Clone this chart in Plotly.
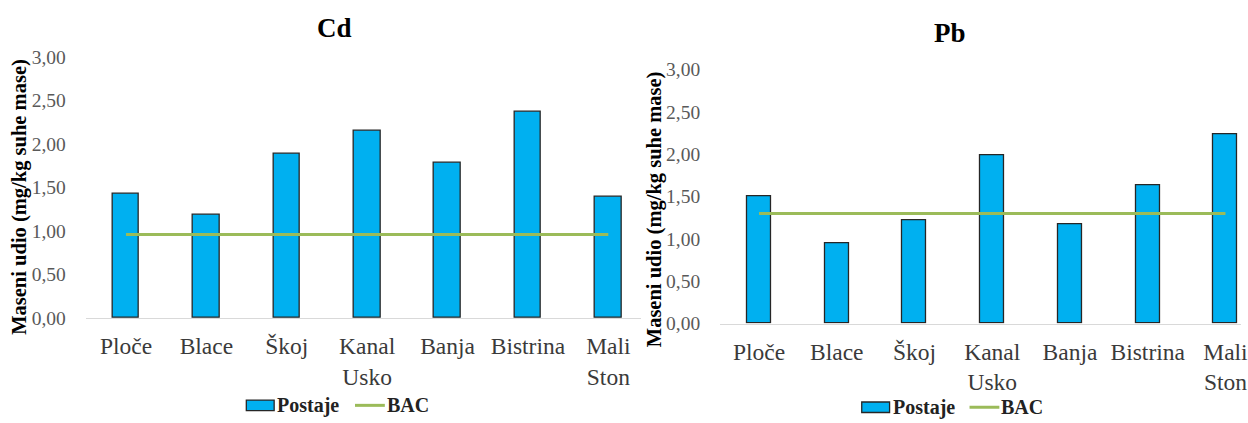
import plotly.graph_objects as go

# Sampling stations (x categories)
stations = ["Ploče", "Blace", "Škoj", "Kanal<br>Usko", "Banja", "Bistrina", "Mali<br>Ston"]

# Mass fractions (mg/kg dry mass)
cd_values = [1.43, 1.18, 1.89, 2.15, 1.78, 2.37, 1.39]
pb_values = [1.50, 0.95, 1.22, 1.98, 1.17, 1.63, 2.23]

# Background assessment concentrations
cd_bac = 0.96
pb_bac = 1.30

W, H = 1248, 423
SERIF = "Liberation Serif"
BAR_FILL = "#00B0F0"
BAR_EDGE = "#262626"
BAC_COLOR = "#9BBB59"


def px_x(x):
    return x / W


def px_y(y):
    return (H - y) / H


fig = go.Figure()

# Cd panel
fig.add_trace(go.Bar(x=stations, y=cd_values, name="Postaje", width=0.33,
                     marker=dict(color=BAR_FILL, line=dict(color=BAR_EDGE, width=1.3)),
                     xaxis="x", yaxis="y", showlegend=False))
fig.add_trace(go.Scatter(x=stations, y=[cd_bac] * len(stations), name="BAC", mode="lines",
                         line=dict(color=BAC_COLOR, width=3),
                         xaxis="x", yaxis="y", showlegend=False))

# Pb panel
fig.add_trace(go.Bar(x=stations, y=pb_values, name="Postaje", width=0.31,
                     marker=dict(color=BAR_FILL, line=dict(color=BAR_EDGE, width=1.3)),
                     xaxis="x2", yaxis="y2", showlegend=False))
fig.add_trace(go.Scatter(x=stations, y=[pb_bac] * len(stations), name="BAC", mode="lines",
                         line=dict(color=BAC_COLOR, width=3),
                         xaxis="x2", yaxis="y2", showlegend=False))

xaxis_common = dict(type="category", showgrid=False, zeroline=False, showline=True,
                    linecolor="#d9d9d9", linewidth=1, ticks="", fixedrange=True,
                    ticklabelstandoff=7,
                    tickfont=dict(family=SERIF, size=23.5, color="#3a3a3a"))
yaxis_common = dict(range=[0, 3], dtick=0.5, tickformat=".2f", showgrid=False,
                    zeroline=False, showline=False, ticks="", ticklabelstandoff=19,
                    tickfont=dict(family=SERIF, size=19.5, color="#595959"))

fig.update_layout(
    width=W, height=H, autosize=False,
    margin=dict(l=0, r=0, t=0, b=0),
    paper_bgcolor="white", plot_bgcolor="white",
    font=dict(family=SERIF),
    separators=", ",
    bargap=0,
    xaxis=dict(domain=[px_x(86.3), px_x(644.9)], range=[-0.5, 6.41], anchor="y", **xaxis_common),
    yaxis=dict(domain=[px_y(324.2), px_y(49.3)], anchor="x", **yaxis_common),
    xaxis2=dict(domain=[px_x(724.2), 1.0], range=[-0.5, 6.20], anchor="y2", **xaxis_common),
    yaxis2=dict(domain=[px_y(330.0), px_y(62.4)], anchor="x2", **yaxis_common),
)

annotations = []
shapes = []

# Panel titles
for text, cx, cy in [("Cd", 336.5, 19), ("Pb", 955.4, 24)]:
    annotations.append(dict(text=f"<b>{text}</b>", x=px_x(cx), y=px_y(cy), xref="paper", yref="paper",
                            showarrow=False, xanchor="center", yanchor="middle",
                            font=dict(family=SERIF, size=27, color="black")))

# Y-axis titles
for cx, cy in [(20, 196.7), (659, 209.3)]:
    annotations.append(dict(text="<b>Maseni udio (mg/kg suhe mase)</b>", x=px_x(cx), y=px_y(cy),
                            xref="paper", yref="paper", showarrow=False, textangle=-90,
                            xanchor="center", yanchor="middle",
                            font=dict(family=SERIF, size=20.5, color="black")))

# Legends drawn below each panel
for box_x, line_x, ly in [(247.7, 357, 416), (866.6, 975, 418)]:
    shapes.append(dict(type="rect", xref="paper", yref="paper",
                       x0=px_x(box_x), x1=px_x(box_x + 28), y0=px_y(ly + 5.5), y1=px_y(ly - 5.5),
                       fillcolor=BAR_FILL, line=dict(color=BAR_EDGE, width=1.3)))
    annotations.append(dict(text="<b>Postaje</b>", x=px_x(box_x + 29), y=px_y(ly), xref="paper",
                            yref="paper", showarrow=False, xanchor="left", yanchor="middle",
                            font=dict(family=SERIF, size=20, color="#222222")))
    shapes.append(dict(type="line", xref="paper", yref="paper",
                       x0=px_x(line_x), x1=px_x(line_x + 30), y0=px_y(ly), y1=px_y(ly),
                       line=dict(color=BAC_COLOR, width=3)))
    annotations.append(dict(text="<b>BAC</b>", x=px_x(line_x + 30), y=px_y(ly), xref="paper",
                            yref="paper", showarrow=False, xanchor="left", yanchor="middle",
                            font=dict(family=SERIF, size=20, color="#222222")))

fig.update_layout(annotations=annotations, shapes=shapes)

fig.write_html("out.html")
